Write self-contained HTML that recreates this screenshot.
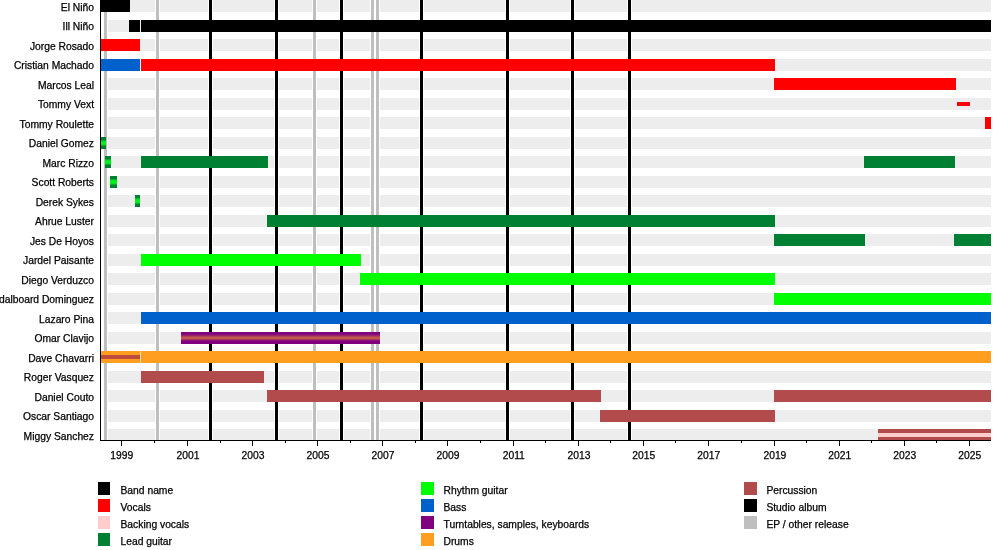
<!DOCTYPE html>
<html><head><meta charset="utf-8"><title>Ill Niño timeline</title>
<style>
html,body{margin:0;padding:0;background:#fff;}
body{width:1000px;height:550px;position:relative;overflow:hidden;font-family:"Liberation Sans",sans-serif;color:#000;-webkit-text-stroke:0.25px #000;}
#c{position:absolute;left:0;top:0;width:1000px;height:550px;filter:blur(0.5px);}
#c div{position:absolute;}
.bg{background:#ededed;}
.lb{font-size:10.3px;line-height:12px;white-space:nowrap;text-align:right;right:906px;}
.yr{font-size:10.3px;line-height:12px;width:40px;text-align:center;}
.lg{font-size:10.3px;line-height:12px;white-space:nowrap;}
</style></head><body><div id="c">

<div class="bg" style="left:108px;top:-6.0px;width:883px;height:18px"></div>
<div class="bg" style="left:108px;top:19.5px;width:883px;height:12px"></div>
<div class="bg" style="left:108px;top:39.0px;width:883px;height:12px"></div>
<div class="bg" style="left:108px;top:58.5px;width:883px;height:12px"></div>
<div class="bg" style="left:108px;top:78.0px;width:883px;height:12px"></div>
<div class="bg" style="left:108px;top:97.5px;width:883px;height:12px"></div>
<div class="bg" style="left:108px;top:117.0px;width:883px;height:12px"></div>
<div class="bg" style="left:108px;top:136.5px;width:883px;height:12px"></div>
<div class="bg" style="left:108px;top:156.0px;width:883px;height:12px"></div>
<div class="bg" style="left:108px;top:175.5px;width:883px;height:12px"></div>
<div class="bg" style="left:108px;top:195.0px;width:883px;height:12px"></div>
<div class="bg" style="left:108px;top:214.5px;width:883px;height:12px"></div>
<div class="bg" style="left:108px;top:234.0px;width:883px;height:12px"></div>
<div class="bg" style="left:108px;top:253.5px;width:883px;height:12px"></div>
<div class="bg" style="left:108px;top:273.0px;width:883px;height:12px"></div>
<div class="bg" style="left:108px;top:292.5px;width:883px;height:12px"></div>
<div class="bg" style="left:108px;top:312.0px;width:883px;height:12px"></div>
<div class="bg" style="left:108px;top:331.5px;width:883px;height:12px"></div>
<div class="bg" style="left:108px;top:351.0px;width:883px;height:12px"></div>
<div class="bg" style="left:108px;top:370.5px;width:883px;height:12px"></div>
<div class="bg" style="left:108px;top:390.0px;width:883px;height:12px"></div>
<div class="bg" style="left:108px;top:409.5px;width:883px;height:12px"></div>
<div class="bg" style="left:108px;top:429.0px;width:883px;height:12px"></div>
<div style="left:104.0px;top:-6px;width:3px;height:446px;background:#bfbfbf;box-shadow:0 0 0 1px rgba(255,255,255,.9)"></div>
<div style="left:156.0px;top:-6px;width:3px;height:446px;background:#bfbfbf;box-shadow:0 0 0 1px rgba(255,255,255,.9)"></div>
<div style="left:312.75px;top:-6px;width:3px;height:446px;background:#bfbfbf;box-shadow:0 0 0 1px rgba(255,255,255,.9)"></div>
<div style="left:370.75px;top:-6px;width:3px;height:446px;background:#bfbfbf;box-shadow:0 0 0 1px rgba(255,255,255,.9)"></div>
<div style="left:375.75px;top:-6px;width:3px;height:446px;background:#bfbfbf;box-shadow:0 0 0 1px rgba(255,255,255,.9)"></div>
<div style="left:209.0px;top:-6px;width:3px;height:446px;background:#000;box-shadow:0 0 0 1px rgba(255,255,255,.9)"></div>
<div style="left:275.0px;top:-6px;width:3px;height:446px;background:#000;box-shadow:0 0 0 1px rgba(255,255,255,.9)"></div>
<div style="left:340.0px;top:-6px;width:3px;height:446px;background:#000;box-shadow:0 0 0 1px rgba(255,255,255,.9)"></div>
<div style="left:420.0px;top:-6px;width:3px;height:446px;background:#000;box-shadow:0 0 0 1px rgba(255,255,255,.9)"></div>
<div style="left:506.0px;top:-6px;width:3px;height:446px;background:#000;box-shadow:0 0 0 1px rgba(255,255,255,.9)"></div>
<div style="left:571.0px;top:-6px;width:3px;height:446px;background:#000;box-shadow:0 0 0 1px rgba(255,255,255,.9)"></div>
<div style="left:628.0px;top:-6px;width:3px;height:446px;background:#000;box-shadow:0 0 0 1px rgba(255,255,255,.9)"></div>
<div style="left:100px;top:-6.0px;width:30px;height:18px;background:#000000"></div>
<div style="left:129px;top:19.5px;width:11px;height:12px;background:#000000"></div>
<div style="left:141px;top:19.5px;width:850px;height:12px;background:#000000"></div>
<div style="left:101px;top:39.0px;width:39px;height:12px;background:#ff0000"></div>
<div style="left:101px;top:58.5px;width:39px;height:12px;background:#0061cc"></div>
<div style="left:141px;top:58.5px;width:634px;height:12px;background:#ff0000"></div>
<div style="left:774px;top:78.0px;width:182px;height:12px;background:#ff0000"></div>
<div style="left:957px;top:102px;width:13px;height:4px;background:#ff0000"></div>
<div style="left:985px;top:117.0px;width:6px;height:12px;background:#ff0000"></div>
<div style="left:101px;top:136.5px;width:5px;height:12px;background:#008033"></div>
<div style="left:101px;top:136.5px;width:5px;height:12px;background:linear-gradient(to bottom,#008033 0,#008033 2.5px,#00f41c 4.8px,#00f41c 7.2px,#008033 9.5px,#008033 12px)"></div>
<div style="left:105px;top:156.0px;width:6px;height:12px;background:#008033"></div>
<div style="left:105px;top:156.0px;width:6px;height:12px;background:linear-gradient(to bottom,#008033 0,#008033 2.5px,#00f41c 4.8px,#00f41c 7.2px,#008033 9.5px,#008033 12px)"></div>
<div style="left:141px;top:156.0px;width:127px;height:12px;background:#008033"></div>
<div style="left:864px;top:156.0px;width:91px;height:12px;background:#008033"></div>
<div style="left:110px;top:175.5px;width:7px;height:12px;background:#008033"></div>
<div style="left:110px;top:175.5px;width:7px;height:12px;background:linear-gradient(to bottom,#008033 0,#008033 2.5px,#00f41c 4.8px,#00f41c 7.2px,#008033 9.5px,#008033 12px)"></div>
<div style="left:135px;top:195.0px;width:5px;height:12px;background:#008033"></div>
<div style="left:135px;top:195.0px;width:5px;height:12px;background:linear-gradient(to bottom,#008033 0,#008033 2.5px,#00f41c 4.8px,#00f41c 7.2px,#008033 9.5px,#008033 12px)"></div>
<div style="left:267px;top:214.5px;width:508px;height:12px;background:#008033"></div>
<div style="left:774px;top:234.0px;width:91px;height:12px;background:#008033"></div>
<div style="left:954px;top:234.0px;width:37px;height:12px;background:#008033"></div>
<div style="left:141px;top:253.5px;width:220px;height:12px;background:#00ff00"></div>
<div style="left:360px;top:273.0px;width:415px;height:12px;background:#00ff00"></div>
<div style="left:774px;top:292.5px;width:217px;height:12px;background:#00ff00"></div>
<div style="left:141px;top:312.0px;width:850px;height:12px;background:#0061cc"></div>
<div style="left:181px;top:331.5px;width:199px;height:12px;background:#800080"></div>
<div style="left:181px;top:331.5px;width:199px;height:12px;background:linear-gradient(to bottom,#800080 0,#800080 2px,#c0584c 5.5px,#c0584c 6.5px,#800080 9px,#800080 12px)"></div>
<div style="left:101px;top:351.0px;width:39px;height:12px;background:#ff9e1f"></div>
<div style="left:101px;top:355.0px;width:39px;height:4px;background:#bf4a3e"></div>
<div style="left:141px;top:351.0px;width:850px;height:12px;background:#ff9e1f"></div>
<div style="left:141px;top:370.5px;width:123px;height:12px;background:#b24c4c"></div>
<div style="left:267px;top:390.0px;width:334px;height:12px;background:#b24c4c"></div>
<div style="left:774px;top:390.0px;width:217px;height:12px;background:#b24c4c"></div>
<div style="left:600px;top:409.5px;width:175px;height:12px;background:#b24c4c"></div>
<div style="left:878px;top:429.0px;width:113px;height:12px;background:#b24c4c"></div>
<div style="left:878px;top:433.0px;width:113px;height:4px;background:#ffcccc"></div>
<div style="left:140px;top:351.0px;width:1px;height:12px;background:#ffdcaa"></div>
<div style="left:100px;top:-6px;width:1px;height:447px;background:#000"></div>
<div style="left:100px;top:440px;width:891px;height:1px;background:#000"></div>
<div style="left:120.8px;top:440px;width:1px;height:5.5px;background:#000"></div>
<div class="yr" style="left:101.8px;top:449.8px">1999</div>
<div style="left:153.9px;top:440px;width:1px;height:3px;background:#000"></div>
<div style="left:187.0px;top:440px;width:1px;height:5.5px;background:#000"></div>
<div class="yr" style="left:168.0px;top:449.8px">2001</div>
<div style="left:219.5px;top:440px;width:1px;height:3px;background:#000"></div>
<div style="left:252.0px;top:440px;width:1px;height:5.5px;background:#000"></div>
<div class="yr" style="left:233.0px;top:449.8px">2003</div>
<div style="left:284.5px;top:440px;width:1px;height:3px;background:#000"></div>
<div style="left:317.0px;top:440px;width:1px;height:5.5px;background:#000"></div>
<div class="yr" style="left:298.0px;top:449.8px">2005</div>
<div style="left:349.5px;top:440px;width:1px;height:3px;background:#000"></div>
<div style="left:382.0px;top:440px;width:1px;height:5.5px;background:#000"></div>
<div class="yr" style="left:363.0px;top:449.8px">2007</div>
<div style="left:414.5px;top:440px;width:1px;height:3px;background:#000"></div>
<div style="left:447.0px;top:440px;width:1px;height:5.5px;background:#000"></div>
<div class="yr" style="left:428.0px;top:449.8px">2009</div>
<div style="left:479.875px;top:440px;width:1px;height:3px;background:#000"></div>
<div style="left:512.75px;top:440px;width:1px;height:5.5px;background:#000"></div>
<div class="yr" style="left:493.75px;top:449.8px">2011</div>
<div style="left:545.375px;top:440px;width:1px;height:3px;background:#000"></div>
<div style="left:578.0px;top:440px;width:1px;height:5.5px;background:#000"></div>
<div class="yr" style="left:559.0px;top:449.8px">2013</div>
<div style="left:610.375px;top:440px;width:1px;height:3px;background:#000"></div>
<div style="left:642.75px;top:440px;width:1px;height:5.5px;background:#000"></div>
<div class="yr" style="left:623.75px;top:449.8px">2015</div>
<div style="left:675.25px;top:440px;width:1px;height:3px;background:#000"></div>
<div style="left:707.75px;top:440px;width:1px;height:5.5px;background:#000"></div>
<div class="yr" style="left:688.75px;top:449.8px">2017</div>
<div style="left:740.825px;top:440px;width:1px;height:3px;background:#000"></div>
<div style="left:773.9px;top:440px;width:1px;height:5.5px;background:#000"></div>
<div class="yr" style="left:754.9px;top:449.8px">2019</div>
<div style="left:806.325px;top:440px;width:1px;height:3px;background:#000"></div>
<div style="left:838.75px;top:440px;width:1px;height:5.5px;background:#000"></div>
<div class="yr" style="left:819.75px;top:449.8px">2021</div>
<div style="left:871.25px;top:440px;width:1px;height:3px;background:#000"></div>
<div style="left:903.75px;top:440px;width:1px;height:5.5px;background:#000"></div>
<div class="yr" style="left:884.75px;top:449.8px">2023</div>
<div style="left:936.25px;top:440px;width:1px;height:3px;background:#000"></div>
<div style="left:968.75px;top:440px;width:1px;height:5.5px;background:#000"></div>
<div class="yr" style="left:949.75px;top:449.8px">2025</div>
<div class="lb" style="top:1.8000000000000007px">El Niño</div>
<div class="lb" style="top:20.8px">Ill Niño</div>
<div class="lb" style="top:40.8px">Jorge Rosado</div>
<div class="lb" style="top:59.8px">Cristian Machado</div>
<div class="lb" style="top:79.8px">Marcos Leal</div>
<div class="lb" style="top:98.8px">Tommy Vext</div>
<div class="lb" style="top:118.8px">Tommy Roulette</div>
<div class="lb" style="top:137.8px">Daniel Gomez</div>
<div class="lb" style="top:157.8px">Marc Rizzo</div>
<div class="lb" style="top:176.8px">Scott Roberts</div>
<div class="lb" style="top:196.8px">Derek Sykes</div>
<div class="lb" style="top:215.8px">Ahrue Luster</div>
<div class="lb" style="top:235.8px">Jes De Hoyos</div>
<div class="lb" style="top:254.8px">Jardel Paisante</div>
<div class="lb" style="top:274.8px">Diego Verduzco</div>
<div class="lb" style="top:293.8px">Adalboard Dominguez</div>
<div class="lb" style="top:313.8px">Lazaro Pina</div>
<div class="lb" style="top:332.8px">Omar Clavijo</div>
<div class="lb" style="top:352.8px">Dave Chavarri</div>
<div class="lb" style="top:371.8px">Roger Vasquez</div>
<div class="lb" style="top:391.8px">Daniel Couto</div>
<div class="lb" style="top:410.8px">Oscar Santiago</div>
<div class="lb" style="top:430.8px">Miggy Sanchez</div>
<div style="left:98px;top:482px;width:12px;height:13px;background:#000000"></div>
<div class="lg" style="left:120.5px;top:484.8px">Band name</div>
<div style="left:98px;top:499px;width:12px;height:13px;background:#ff0000"></div>
<div class="lg" style="left:120.5px;top:501.8px">Vocals</div>
<div style="left:98px;top:516px;width:12px;height:13px;background:#ffcccc"></div>
<div class="lg" style="left:120.5px;top:518.8px">Backing vocals</div>
<div style="left:98px;top:533px;width:12px;height:13px;background:#008033"></div>
<div class="lg" style="left:120.5px;top:535.8px">Lead guitar</div>
<div style="left:421px;top:482px;width:13px;height:13px;background:#00ff00"></div>
<div class="lg" style="left:443.5px;top:484.8px">Rhythm guitar</div>
<div style="left:421px;top:499px;width:13px;height:13px;background:#0061cc"></div>
<div class="lg" style="left:443.5px;top:501.8px">Bass</div>
<div style="left:421px;top:516px;width:13px;height:13px;background:#800080"></div>
<div class="lg" style="left:443.5px;top:518.8px">Turntables, samples, keyboards</div>
<div style="left:421px;top:533px;width:13px;height:13px;background:#ff9e1f"></div>
<div class="lg" style="left:443.5px;top:535.8px">Drums</div>
<div style="left:744px;top:482px;width:13px;height:13px;background:#b24c4c"></div>
<div class="lg" style="left:766.4px;top:484.8px">Percussion</div>
<div style="left:744px;top:499px;width:13px;height:13px;background:#000000"></div>
<div class="lg" style="left:766.4px;top:501.8px">Studio album</div>
<div style="left:744px;top:516px;width:13px;height:13px;background:#bfbfbf"></div>
<div class="lg" style="left:766.4px;top:518.8px">EP / other release</div>
</div></body></html>
